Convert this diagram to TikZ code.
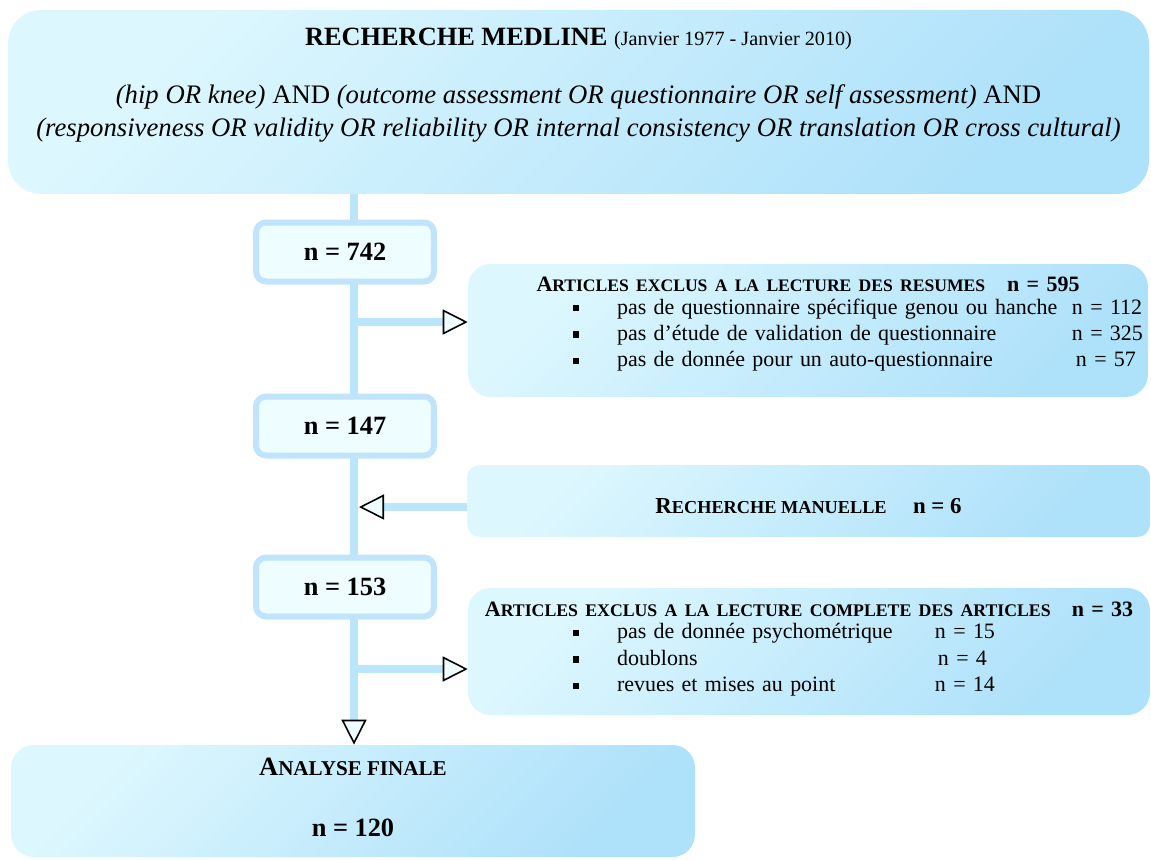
\documentclass[tikz,border=0pt]{standalone}
\usepackage{fontspec}
\setmainfont{Liberation Serif}
\usetikzlibrary{arrows.meta, backgrounds}

\definecolor{boxlite}{RGB}{221,247,254}
\definecolor{boxdeep}{RGB}{174,225,250}
\definecolor{linkblue}{RGB}{187,229,251}
\definecolor{countedge}{RGB}{191,228,252}
\definecolor{countfill}{RGB}{238,253,255}

% fausses petites capitales et puce carree
\newcommand\petit[2]{{\fontsize{#1}{#1}\selectfont #2}}
\newcommand\carre{\rule[1.5pt]{3.2pt}{3.6pt}}

\tikzset{
  opentip/.tip={Triangle[length=0.5cm, width=0.5cm, color=black, fill=countfill, line width=0.9pt]},
  link/.style={draw=linkblue, line width=0.16cm},
  bigbox/.style={rounded corners=0.45cm, top color=boxlite, middle color=boxlite!80!boxdeep,
    bottom color=boxdeep, shading angle=45, inner sep=0pt},
  countbox/.style={draw=countedge, fill=countfill, line width=0.12cm, rounded corners=0.2cm,
    minimum width=3.56cm, minimum height=1.18cm, font=\fontsize{15}{18}\selectfont\bfseries},
  listfont/.style={font=\fontsize{12.5}{15}\selectfont},
}

\begin{document}
\begin{tikzpicture}[x=0.02cm, y=-0.02cm]
\useasboundingbox (0,0) rectangle (1151,859);

% recherche initiale
\node[bigbox, rounded corners=0.66cm, minimum width=22.82cm, minimum height=3.68cm, align=center,
  font=\fontsize{15.2}{18.9}\selectfont] (medline) at (578.5,102) {%
  \textbf{\fontsize{15}{18.9}\selectfont RECHERCHE MEDLINE} \petit{11.5}{(Janvier 1977 - Janvier 2010)}\\[14pt]
  \textit{(hip OR knee)} AND \textit{(outcome assessment OR questionnaire OR self assessment)} AND\\
  \textit{(responsiveness OR validity OR reliability OR internal consistency OR translation OR cross cultural)}\rule[-0.78cm]{0pt}{0pt}};

% effectifs
\node[countbox] (n742) at (345,252) {n = 742};
\node[countbox] (n147) at (345,426) {n = 147};
\node[countbox] (n153) at (345,587) {n = 153};

% exclusions et ajouts
\node[bigbox, minimum width=13.6cm, minimum height=2.66cm, text width=13.6cm, align=left, listfont]
  (excl1) at (808,330.5) {%
  \makebox[13.6cm][c]{\textbf{A\petit{10}{RTICLES EXCLUS A LA LECTURE DES RESUMES}\quad n = 595}}\\[-2pt]
  \hspace*{2.1cm}\makebox[0.88cm][l]{\carre}\makebox[9.1cm][l]{pas de questionnaire spécifique genou ou hanche}n = 112\\
  \hspace*{2.1cm}\makebox[0.88cm][l]{\carre}\makebox[9.1cm][l]{pas d’étude de validation de questionnaire}n = 325\\
  \hspace*{2.1cm}\makebox[0.88cm][l]{\carre}\makebox[9.1cm][l]{pas de donnée pour un auto-questionnaire}\hspace{0.08cm}n = 57\rule[-0.35cm]{0pt}{0pt}};

\node[bigbox, rounded corners=0.25cm, minimum width=13.66cm, minimum height=1.44cm,
  text height=15pt, text depth=1pt, font=\fontsize{13}{15}\selectfont\bfseries]
  (manual) at (808.5,501) {R\petit{10.4}{ECHERCHE MANUELLE}\hspace{15pt}n = 6};

\node[bigbox, minimum width=13.64cm, minimum height=2.54cm, text width=13.64cm, align=left, listfont]
  (excl2) at (809,651.5) {%
  \makebox[13.64cm][c]{\textbf{A\petit{10.1}{RTICLES EXCLUS A LA LECTURE COMPLETE DES ARTICLES}\hspace{12pt}n = 33}}\\[-2pt]
  \hspace*{2.1cm}\makebox[0.88cm][l]{\carre}\makebox[6.36cm][l]{pas de donnée psychométrique}n = 15\\
  \hspace*{2.1cm}\makebox[0.88cm][l]{\carre}\makebox[6.36cm][l]{doublons}\hspace{0.06cm}n = 4\\
  \hspace*{2.1cm}\makebox[0.88cm][l]{\carre}\makebox[6.36cm][l]{revues et mises au point}n = 14\rule[-0.2cm]{0pt}{0pt}};

% analyse finale
\node[bigbox, minimum width=13.68cm, minimum height=2.24cm, align=center,
  font=\fontsize{15}{18}\selectfont\bfseries] (final) at (353,801) {%
  A\petit{12}{NALYSE FINALE}\\[17pt] n = 120\rule[-4pt]{0pt}{0pt}};

\coordinate (fork1) at (354,322);
\coordinate (fork2) at (354,669);
\coordinate (merge) at (359,507);

\begin{scope}[on background layer]
  \draw[link, -opentip] (fork1 |- medline.south) -- (fork1 |- final.north);
  \draw[link, -opentip] (fork1) -- (fork1 -| excl1.west);
  \draw[link, -opentip] (fork2) -- (fork2 -| excl2.west);
  \draw[link, -opentip] (manual.west |- merge) -- (merge);
\end{scope}
\end{tikzpicture}
\end{document}
